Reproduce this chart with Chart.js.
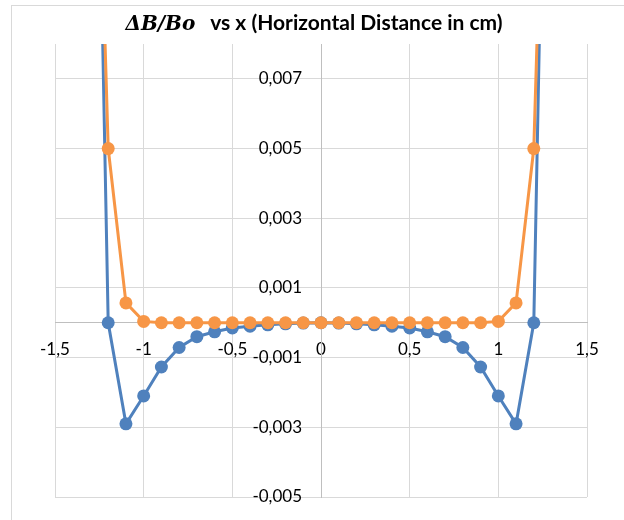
<!DOCTYPE html>
<html>
<head>
<meta charset="utf-8">
<script src="https://cdn.jsdelivr.net/npm/chart.js@4"></script>
<style>
  body { margin: 0; background: #fff; }
  #wrap { position: relative; width: 624px; height: 520px; overflow: hidden; }
  #frame { position: absolute; left: 11px; top: 5px; width: 700px; height: 600px; border: 1px solid #d9d9d9; }
  #title { position: absolute; left: 0; width: 628px; top: 9px; text-align: center; font: bold 21px Lato, "Open Sans", sans-serif; color: #000; white-space: pre; }
  #title i { font-family: "DejaVu Serif", serif; font-size: 20px; }
  canvas { position: absolute; left: 0; top: 0; }
</style>
</head>
<body>
<div id="wrap">
  <div id="frame"></div>
  <canvas id="chart" width="624" height="520"></canvas>
  <div id="title"><i>ΔB/Bo</i>   vs x (Horizontal Distance in cm)</div>
</div>
<script>
const xValues = [-1.3, -1.2, -1.1, -1.0, -0.9, -0.8, -0.7, -0.6, -0.5, -0.4, -0.3, -0.2, -0.1, 0,
                 0.1, 0.2, 0.3, 0.4, 0.5, 0.6, 0.7, 0.8, 0.9, 1.0, 1.1, 1.2, 1.3];
const blueValues = [0.026, 0, -0.0029, -0.0021, -0.00127, -0.00071, -0.0004, -0.00026, -0.00015, -0.0001, -0.00006, -0.00003, -0.00001, 0,
                    -0.00001, -0.00003, -0.00006, -0.0001, -0.00015, -0.00026, -0.0004, -0.00071, -0.00127, -0.0021, -0.0029, 0, 0.026];
const orangeValues = [0.022, 0.005, 0.00057, 0.00004, 0, 0, 0, 0, 0, 0, 0, 0, 0, 0,
                      0, 0, 0, 0, 0, 0, 0, 0, 0, 0.00004, 0.00057, 0.005, 0.022];
const yTicks = [-0.005, -0.003, -0.001, 0.001, 0.003, 0.005, 0.007];

const toPoints = vals => xValues.map((x, i) => ({ x: x, y: vals[i] }));
const comma = v => String(v).replace('.', ',');
const setTicks = axis => { axis.ticks = yTicks.map(v => ({ value: v })); };
const tickFont = { family: 'Lato', size: 17 };

new Chart(document.getElementById('chart'), {
    type: 'scatter',
    data: {
        datasets: [
            { label: 'Series1', data: toPoints(blueValues), showLine: true, order: 2,
              borderColor: '#4f81bd', backgroundColor: '#4f81bd', borderWidth: 3, pointRadius: 6.5, pointBorderWidth: 0 },
            { label: 'Series2', data: toPoints(orangeValues), showLine: true, order: 1,
              borderColor: '#f79646', backgroundColor: '#f79646', borderWidth: 3, pointRadius: 6.5, pointBorderWidth: 0 }
        ]
    },
    options: {
        responsive: false,
        animation: false,
        layout: { padding: { left: 55, right: 37, top: 44, bottom: 23 } },
        plugins: { legend: { display: false }, tooltip: { enabled: false }, title: { display: false } },
        scales: {
            x: {
                type: 'linear', min: -1.5, max: 1.5,
                position: { y: 0 },
                afterFit: s => { s.height = 0; },
                ticks: { stepSize: 0.5, callback: comma, color: '#000', padding: 17, font: tickFont },
                grid: { color: '#d9d9d9', drawTicks: false },
                border: { color: '#bfbfbf', width: 1 }
            },
            y: {
                type: 'linear', min: -0.005, max: 0.008,
                position: { x: 0 },
                afterFit: s => { s.width = 0; },
                afterBuildTicks: setTicks,
                ticks: { display: false },
                grid: { color: '#d9d9d9', drawTicks: false },
                border: { color: '#bfbfbf', width: 1 }
            },
            yLabels: {
                type: 'linear', min: -0.005, max: 0.008,
                position: { x: -0.107 },
                afterFit: s => { s.width = 0; },
                afterBuildTicks: setTicks,
                ticks: { callback: comma, color: '#000', padding: 0, font: tickFont },
                grid: { display: false, drawTicks: false },
                border: { display: false }
            }
        }
    }
});
</script>
</body>
</html>
